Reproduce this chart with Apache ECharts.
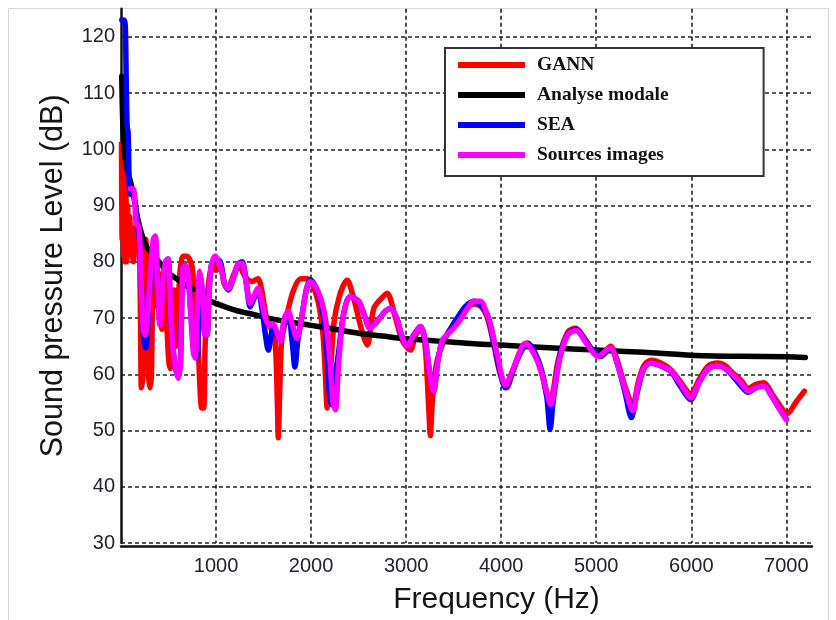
<!DOCTYPE html>
<html>
<head>
<meta charset="utf-8">
<script src="https://cdn.jsdelivr.net/npm/echarts@6/dist/echarts.min.js"></script>
<style>
html,body{margin:0;padding:0;background:#fff;}
#chart{width:836px;height:620px;}
</style>
</head>
<body>
<div id="chart"></div>
<script>
// Series names (legend)
const seriesNames = ['GANN', 'Analyse modale', 'SEA', 'Sources images'];

// X tick values (Hz) and Y tick values (dB)
const xTicks = [1000, 2000, 3000, 4000, 5000, 6000, 7000];
const yTicks = [30, 40, 50, 60, 70, 80, 90, 100, 110, 120];

// GANN [frequency Hz, level dB]
const gann = [
  [5,101],[12,84],[20,97],[28,81],[36,95],[44,80],[52,92],[60,80],[70,90],[80,81],[92,88],[105,82],
  [118,86],[130,80],[150,84],[170,87.6],[190,86],[205,70],[215,57.6],[230,60],[245,80],[260,84],
  [275,75],[290,60],[305,57.6],[320,60],[335,78],[350,80],[365,76],[380,72],[395,78],[410,74],
  [430,68],[450,78],[470,74],[490,66],[505,62],[520,61],[540,70],[560,75],[580,65],[600,72],
  [620,78],[640,80.5],[660,81],[690,81],[720,80.5],[750,79],[775,72],[790,70],[810,66],[830,58],
  [850,54],[870,54],[885,65],[900,72],[920,76],[945,78.5],[975,79.5],[1000,78.5],[1045,79],
  [1090,76],[1130,75.5],[1180,77.5],[1240,79.5],[1300,77.5],[1380,76.5],[1440,77],[1480,75],
  [1530,70],[1570,68.5],[1620,66],[1645,55],[1655,48.7],[1668,56],[1690,66],[1730,69.4],
  [1810,74.7],[1890,77],[1960,77],[2060,73.8],[2120,68],[2150,60],[2170,54],[2195,58],[2240,69],
  [2300,74],[2380,76.7],[2440,74],[2530,68],[2590,65.2],[2660,71.7],[2740,73.5],[2800,74.4],
  [2880,70.5],[2960,66],[3045,64.3],[3100,67],[3160,68],[3200,65],[3235,55],[3255,49.1],
  [3275,55],[3320,62],[3400,66],[3500,69],[3620,71.5],[3710,72.5],[3790,72],[3855,70],[3920,65.5],
  [3990,60],[4060,57.6],[4120,60.5],[4200,64],[4280,65.5],[4360,63.5],[4430,60],[4500,55.8],
  [4540,56.5],[4600,62.5],[4700,67.5],[4785,68.2],[4870,66.5],[4950,64.5],[5050,63.5],[5150,65],
  [5220,62.5],[5300,58],[5385,54.5],[5440,58.5],[5500,61.5],[5575,62.5],[5680,62],[5785,60.8],
  [5880,58.8],[5995,56.5],[6080,59],[6180,61.5],[6280,62],[6360,61.5],[6420,60.5],[6520,59],
  [6600,57.5],[6680,58.2],[6765,58.5],[6850,56.5],[6930,54.5],[7010,53],[7100,55],[7190,57]
];

// Analyse modale [frequency Hz, level dB]
const modal = [
  [8,113],[20,104],[40,99],[70,96],[100,94.2],[130,92],[160,89],[200,86],[250,83.3],[300,82],
  [400,80],[500,78],[600,76.8],[700,75.6],[830,74.7],[900,73.4],[1000,72.6],[1200,71.4],
  [1400,70.6],[1600,69.8],[1800,69.2],[2000,68.7],[2250,68],[2500,67.3],[2750,66.8],[3000,66.3],
  [3250,66],[3500,65.7],[3750,65.4],[4000,65.2],[4500,64.7],[5000,64.3],[5500,63.9],[6000,63.4],
  [6500,63.2],[7000,63.1],[7200,63.0]
];

// SEA [frequency Hz, level dB]
const sea = [
  [8,123],[30,123],[45,122],[55,112],[65,104],[75,103],[85,95],[100,92],[120,92],[140,91.5],
  [160,89],[180,86],[200,83],[220,73],[240,66],[260,64.7],[280,68],[310,77],[340,83],[360,84],
  [385,76],[410,69],[440,76],[470,80],[495,80.5],[520,72],[550,64],[600,59.5],[625,62],[650,78.8],
  [680,79.3],[705,78],[730,72],[760,66],[800,62.9],[830,78],[860,74],[885,67],[905,67],[925,74],
  [950,79.3],[990,80.5],[1045,80],[1090,76],[1130,75],[1180,77],[1240,79.7],[1275,80],[1320,76],
  [1360,72],[1400,73.5],[1440,75],[1480,72],[1520,67],[1550,64.3],[1600,68],[1640,67],[1675,66],
  [1720,69.5],[1760,70.5],[1800,66],[1830,61.3],[1860,66],[1900,70],[1950,75],[1990,76.8],
  [2050,75.5],[2100,73],[2150,68],[2190,57],[2210,54.6],[2240,58],[2290,64],[2340,70.5],
  [2410,73.8],[2500,73],[2560,70.5],[2620,68.2],[2700,69.5],[2780,71.2],[2835,71.7],[2900,70],
  [2960,66.5],[3010,65],[3080,67],[3150,68.5],[3200,66],[3250,60],[3290,57],[3330,62],[3380,66],
  [3430,67],[3520,69.5],[3620,72],[3710,73],[3790,72.2],[3855,70.5],[3920,66],[3980,61],
  [4045,57.6],[4100,59.5],[4180,63],[4280,65.5],[4350,64],[4420,61],[4480,56],[4515,50.2],
  [4545,55],[4620,63.5],[4700,67],[4785,68],[4870,66.5],[4950,64.5],[5050,63.2],[5150,64.7],
  [5220,62],[5300,57],[5370,52.3],[5420,56],[5500,61],[5575,62],[5680,61.5],[5785,60.5],
  [5880,58],[5995,55.5],[6080,58.5],[6180,61],[6280,61.5],[6360,61],[6420,60],[6520,58],
  [6600,56.8],[6680,57.6],[6765,57.9],[6850,56],[6930,53.8],[7000,52]
];

// Sources images [frequency Hz, level dB]
const sources = [
  [100,93],[130,93],[160,87],[190,86],[215,75],[235,68],[255,67],[280,70],[310,78],[340,84],
  [360,84.6],[385,76],[410,68.7],[440,76],[470,80],[495,80.5],[520,72],[550,64],[600,59.3],
  [625,62],[650,78.8],[680,79.3],[705,78],[730,72],[760,64],[780,62.9],[800,70],[830,78.3],
  [860,74],[885,67],[905,67],[925,74],[950,79.3],[990,81],[1045,79.3],[1090,76],[1130,75.3],
  [1180,77],[1240,79.7],[1275,79.7],[1320,76],[1360,72.6],[1400,74],[1440,75.3],[1480,73],
  [1520,70],[1560,68.7],[1600,69],[1640,67.5],[1675,65.9],[1720,70],[1760,71.2],[1800,69],
  [1850,66.4],[1900,70],[1950,75],[1990,76.5],[2050,75.5],[2100,73.5],[2150,70],[2200,62],
  [2230,55],[2255,53.7],[2290,62],[2340,70.5],[2410,73.8],[2500,73],[2560,70.5],[2620,68.2],
  [2700,69.5],[2780,71.2],[2835,71.7],[2900,70],[2960,66.5],[3010,65],[3080,67],[3150,68.5],
  [3200,66],[3250,60],[3290,57],[3330,62],[3380,66],[3430,67],[3540,69],[3645,71.7],[3710,73],
  [3780,73],[3855,70.5],[3890,68.7],[3960,63.4],[4045,58.1],[4130,61.1],[4255,65.5],[4380,62.4],
  [4470,57.5],[4520,54.6],[4570,58.5],[4625,63.4],[4700,67],[4785,67.8],[4910,65.2],[5015,63.2],
  [5150,64.7],[5220,62],[5300,57.5],[5385,53.5],[5440,58],[5500,61],[5575,62],[5680,61.5],
  [5785,60.6],[5880,58.5],[5995,55.8],[6080,58.5],[6180,61],[6280,61.5],[6360,61],[6420,60.2],
  [6520,58.5],[6600,57],[6680,57.6],[6765,57.9],[6850,56],[6930,53.8],[7000,51.9]
];

const colors = ['#ff0000', '#000000', '#0000ff', '#ff00ff'];
const seriesData = [gann, modal, sea, sources];

const chart = echarts.init(document.getElementById('chart'), null, {renderer: 'canvas'});

const axisFont = 'Liberation Sans, Arial, sans-serif';

const option = {
  animation: false,
  backgroundColor: '#ffffff',
  color: colors,
  grid: { left: 121, right: 24, top: 8.7, bottom: 74, containLabel: false },
  legend: {
    data: seriesNames,
    orient: 'vertical',
    left: 445,
    top: 48,
    padding: [7, 95, 11, 13],
    itemWidth: 67,
    itemHeight: 6,
    itemGap: 10,
    icon: 'rect',
    backgroundColor: '#ffffff',
    borderColor: '#333333',
    borderWidth: 2,
    borderRadius: 0,
    textStyle: {
      fontFamily: 'Liberation Serif, Times New Roman, serif',
      fontWeight: 'bold',
      fontSize: 19.5,
      lineHeight: 20,
      color: '#111111',
      padding: [0, 0, 0, 7]
    }
  },
  xAxis: {
    type: 'value',
    min: 0,
    max: 7270,
    interval: 1000,
    offset: 3,
    name: 'Frequency (Hz)',
    nameLocation: 'middle',
    nameGap: 39,
    nameTextStyle: {
      fontFamily: axisFont, fontSize: 30, color: '#151515', padding: [0, 0, 0, 60]
    },
    axisLine: { show: true, lineStyle: { color: '#111', width: 2.5 } },
    axisTick: { show: false },
    axisLabel: {
      margin: 10,
      fontFamily: axisFont, fontSize: 20, color: '#222233',
      showMaxLabel: false,
      formatter: function (v) { return xTicks.indexOf(v) >= 0 ? String(v) : ''; }
    },
    splitLine: {
      show: true, showMinLine: false, showMaxLine: false,
      lineStyle: { color: '#222', width: 1.6, type: [4, 3] }
    }
  },
  yAxis: {
    type: 'value',
    min: 30,
    max: 125,
    interval: 10,
    name: 'Sound pressure Level (dB)',
    nameLocation: 'middle',
    nameGap: 52,
    nameTextStyle: { fontFamily: axisFont, fontSize: 30.5, color: '#151515' },
    axisLine: { show: true, lineStyle: { color: '#111', width: 2.5 } },
    axisTick: { show: false },
    axisLabel: {
      margin: 6,
      fontFamily: axisFont, fontSize: 20, color: '#222233',
      showMaxLabel: false,
      formatter: function (v) { return yTicks.indexOf(v) >= 0 ? String(v) : ''; }
    },
    splitLine: {
      show: true, showMinLine: true, showMaxLine: false,
      lineStyle: { color: '#222', width: 1.6, type: [4, 3] }
    }
  },
  graphic: [{
    type: 'rect',
    silent: true,
    z: -10,
    shape: { x: 8.5, y: 8.5, width: 820, height: 640 },
    style: { fill: 'none', stroke: '#d9d9d9', lineWidth: 1 }
  }],
  series: seriesNames.map(function (name, i) {
    return {
      name: name,
      type: 'line',
      data: seriesData[i],
      symbol: 'none',
      smooth: 0.3,
      clip: true,
      lineStyle: { color: colors[i], width: 5.5, join: 'round', cap: 'round' },
      itemStyle: { color: colors[i] },
      z: 2 + i
    };
  })
};

chart.setOption(option);
</script>
</body>
</html>
